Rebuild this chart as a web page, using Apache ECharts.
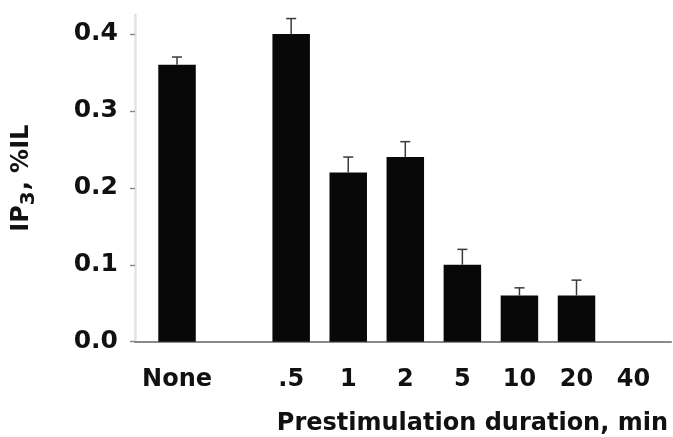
<!DOCTYPE html>
<html>
<head>
<meta charset="utf-8">
<style>
  html, body { margin: 0; padding: 0; background: #fff; }
  #chart { width: 673px; height: 437px; }
</style>
<script src="https://cdn.jsdelivr.net/npm/echarts@6/dist/echarts.min.js"></script>
</head>
<body>
<div id="chart"></div>
<script>
// Prestimulation duration categories (blank slot separates the control)
const categories = ['None', '', '.5', '1', '2', '5', '10', '20', '40'];
// IP3 level, % of incorporated label
const ip3Mean = [0.36, null, 0.40, 0.22, 0.24, 0.10, 0.06, 0.06, 0];
// Upper error (SEM)
const ip3Err = [0.01, null, 0.02, 0.02, 0.02, 0.02, 0.01, 0.02, null];
// Y-axis scale
const yMin = 0;
const yMax = 0.425;
const yStep = 0.1;

const FONT = 'DejaVu Sans';
const chart = echarts.init(document.getElementById('chart'), null, { renderer: 'canvas' });

const errData = categories.map((c, i) => [i, ip3Mean[i], ip3Err[i]]).filter(d => d[1] != null && d[2] != null);

chart.setOption({
  animation: false,
  backgroundColor: '#ffffff',
  grid: [
    // frame of the plot
    { left: 135, right: 2, top: 14.7, bottom: 95.3 },
    // bars
    { left: 148.5, right: 10.9, top: 14.7, bottom: 95.3 }
  ],
  xAxis: [
    {
      gridIndex: 0, type: 'value', min: 0, max: 1, position: 'bottom',
      axisLine: { show: true, lineStyle: { color: '#8a8a8a', width: 1.6 } },
      axisTick: { show: false }, axisLabel: { show: false }, splitLine: { show: false },
      name: 'Prestimulation duration, min',
      nameLocation: 'end',
      nameGap: -3,
      nameTextStyle: {
        fontFamily: FONT, fontWeight: 'bold', fontSize: 24, color: '#111',
        align: 'right', verticalAlign: 'top', padding: [70, 0, 0, 0]
      }
    },
    {
      gridIndex: 0, type: 'value', min: 0, max: 1, position: 'top',
      axisLine: { show: true, lineStyle: { color: '#8a8a8a', width: 1.8 } },
      axisTick: { show: false }, axisLabel: { show: false }, splitLine: { show: false }
    },
    {
      gridIndex: 1, type: 'category', data: categories,
      axisLine: { show: false }, axisTick: { show: false },
      axisLabel: {
        interval: 0, margin: 26,
        fontFamily: FONT, fontWeight: 'bold', fontSize: 24, color: '#111'
      }
    }
  ],
  yAxis: [
    {
      gridIndex: 0, type: 'value', min: yMin, max: yMax, interval: yStep, position: 'left',
      axisLine: { show: true, lineStyle: { color: '#999', width: 1.4 } },
      axisTick: { show: true, inside: false, length: 5, lineStyle: { color: '#888', width: 1.4 } },
      splitLine: { show: false },
      axisLabel: {
        margin: 17,
        fontFamily: FONT, fontWeight: 'bold', fontSize: 25, color: '#111',
        formatter: v => v.toFixed(1)
      },
      name: 'IP{sub|3}, %IL',
      nameLocation: 'middle',
      nameGap: 96,
      nameRotate: 90,
      nameTextStyle: {
        fontFamily: FONT, fontWeight: 'bold', fontSize: 24, color: '#111',
        rich: {
          sub: { fontFamily: FONT, fontWeight: 'bold', fontSize: 20, color: '#111', padding: [14, 1, 0, 0] }
        }
      }
    },
    {
      gridIndex: 0, type: 'value', min: yMin, max: yMax, position: 'right',
      axisLine: { show: true, lineStyle: { color: '#e2e2e2', width: 1 } },
      axisTick: { show: false }, axisLabel: { show: false }, splitLine: { show: false }
    },
    {
      gridIndex: 1, type: 'value', min: yMin, max: yMax, interval: yStep, show: false
    }
  ],
  series: [
    {
      type: 'bar', xAxisIndex: 2, yAxisIndex: 2,
      data: ip3Mean,
      barWidth: 37.5,
      itemStyle: { color: '#080808' },
      z: 2
    },
    {
      type: 'custom', xAxisIndex: 2, yAxisIndex: 2,
      data: errData,
      z: 3,
      renderItem: function (params, api) {
        const x = api.value(0);
        const m = api.value(1);
        const e = api.value(2);
        const p0 = api.coord([x, m]);
        const p1 = api.coord([x, m + e]);
        const half = 5;
        const style = { stroke: '#3a3a3a', lineWidth: 1.5 };
        return {
          type: 'group',
          children: [
            { type: 'line', shape: { x1: p0[0], y1: p0[1], x2: p1[0], y2: p1[1] }, style: style },
            { type: 'line', shape: { x1: p1[0] - half, y1: p1[1], x2: p1[0] + half, y2: p1[1] }, style: style }
          ]
        };
      }
    }
  ]
});
</script>
</body>
</html>
